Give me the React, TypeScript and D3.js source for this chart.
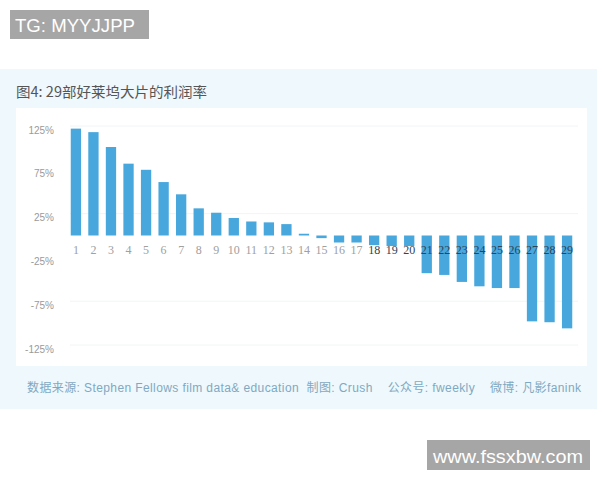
import * as d3 from "d3"

const films = d3.range(1, 30).map(String)
const margins = [
  122, 118, 101, 82, 75, 61, 47, 31, 26, 20, 16, 15, 13, 2, -3, -8, -8, -11, -12, -12,
  -43, -45, -53, -58, -60, -60, -98, -99, -106,
]
const yTicks = [125, 75, 25, -25, -75, -125]
const gridTicks = [125, 25, -75, -125]

const title = "图4: 29部好莱坞大片的利润率"
const footer = "数据来源: Stephen Fellows film data& education  制图: Crush    公众号: fweekly    微博: 凡影fanink"

const cjk = "'Noto Sans CJK SC', 'Noto Sans', sans-serif"
const latin = "'Liberation Sans', 'Noto Sans CJK SC', sans-serif"

export default function App() {
  const x = d3.scaleBand<string>().domain(films).range([63.5, 579.5]).padding(0.413)
  const y = d3.scaleLinear().domain([-125, 125]).range([345, 126])
  const zero = y(0)

  return (
    <svg
      width={600}
      height={480}
      style={{ position: "absolute", left: 0, top: 0, background: "#fff" }}
    >
      {/* watermark top */}
      <rect x={10} y={10} width={139} height={29} fill="#a6a6a6" />
      <text x={15} y={32} fill="#fff" fontSize={19} fontFamily={latin} textLength={120} lengthAdjust="spacingAndGlyphs">
        TG: MYYJJPP
      </text>

      {/* outer panel */}
      <rect x={0} y={69} width={597} height={340} fill="#eff8fc" />
      <rect x={16} y={108} width={571} height={258} fill="#fff" />

      <text x={16} y={97} fill="#555" fontSize={14} fontFamily={cjk} textLength={191} lengthAdjust="spacingAndGlyphs">
        {title}
      </text>

      {gridTicks.map((t) => (
        <line key={t} x1={70} x2={578} y1={y(t)} y2={y(t)} stroke="#f2f4f5" strokeWidth={1} />
      ))}

      {yTicks.map((t) => (
        <text
          key={t}
          x={54}
          y={y(t) + 4}
          dy="0.35em"
          textAnchor="end"
          fill="#9a9a9a"
          fontSize={10}
          fontFamily="'Liberation Sans', sans-serif"
        >
          {`${t}%`}
        </text>
      ))}

      {films.map((f, i) => {
        const v = margins[i]
        return (
          <rect
            key={f}
            x={x(f)}
            width={x.bandwidth()}
            y={Math.min(y(v), zero)}
            height={Math.max(Math.abs(y(v) - zero), 1.5)}
            fill="#48a7dd"
          />
        )
      })}

      {films.map((f, i) => (
        <text
          key={f}
          x={(x(f) ?? 0) + x.bandwidth() / 2}
          y={250}
          dy="0.35em"
          textAnchor="middle"
          fill={i >= 17 ? "#2f4354" : "#a0a0a0"}
          fontSize={12}
          fontFamily="'Liberation Serif', serif"
        >
          {f}
        </text>
      ))}

      <text
        x={27}
        y={392}
        fill="#7fa9c2"
        fontSize={12}
        fontFamily={latin}
        textLength={554}
        lengthAdjust="spacing"
        style={{ whiteSpace: "pre" }}
      >
        {footer}
      </text>

      {/* watermark bottom */}
      <rect x={427} y={440} width={163} height={30} fill="#a6a6a6" />
      <text x={433} y={463} fill="#fff" fontSize={19} fontFamily={latin} textLength={150} lengthAdjust="spacingAndGlyphs">
        www.fssxbw.com
      </text>
    </svg>
  )
}
